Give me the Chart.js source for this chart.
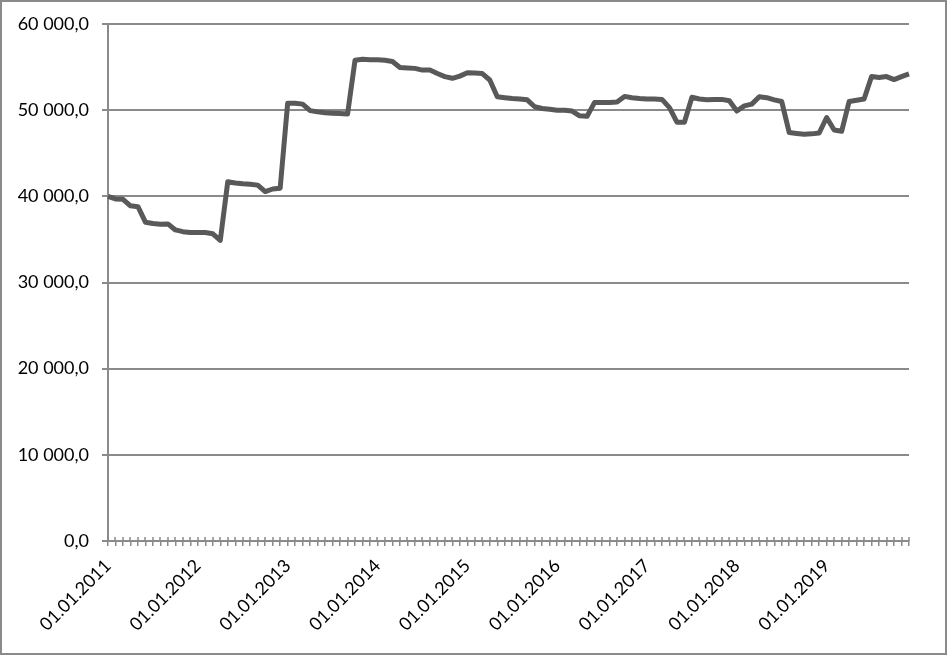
<!DOCTYPE html>
<html><head><meta charset="utf-8">
<script src="https://cdn.jsdelivr.net/npm/chart.js@4/dist/chart.umd.min.js"></script>
<style>html,body{margin:0;padding:0;background:#fff}canvas{display:block}</style>
</head><body>
<canvas id="c" width="947" height="655"></canvas>
<script>
const years = [2011, 2012, 2013, 2014, 2015, 2016, 2017, 2018, 2019];
const v2011 = [40000, 39700, 39650, 38900, 38800, 37000, 36850, 36750, 36800, 36100, 35900, 35800];
const v2012 = [35800, 35800, 35650, 34900, 41700, 41550, 41450, 41400, 41300, 40550, 40850, 40950];
const v2013 = [50800, 50800, 50700, 49950, 49800, 49700, 49650, 49600, 49550, 55800, 55900, 55850];
const v2014 = [55850, 55800, 55650, 54950, 54900, 54850, 54650, 54650, 54250, 53900, 53700, 53950];
const v2015 = [54350, 54300, 54250, 53500, 51550, 51450, 51350, 51300, 51200, 50400, 50200, 50100];
const v2016 = [50000, 50000, 49900, 49350, 49300, 50900, 50900, 50900, 50950, 51600, 51450, 51350];
const v2017 = [51300, 51300, 51250, 50300, 48600, 48600, 51500, 51300, 51200, 51250, 51250, 51100];
const v2018 = [49900, 50500, 50700, 51550, 51450, 51200, 51000, 47400, 47300, 47200, 47250, 47350];
const v2019 = [49150, 47700, 47550, 51000, 51150, 51300, 53900, 53800, 53900, 53550, 53900, 54200];
const yTicks = [0, 10000, 20000, 30000, 40000, 50000, 60000];
const tickLabels = ["01.01.2011","01.01.2012","01.01.2013","01.01.2014","01.01.2015","01.01.2016","01.01.2017","01.01.2018","01.01.2019"];

const values = [].concat(v2011, v2012, v2013, v2014, v2015, v2016, v2017, v2018, v2019);
const categories = [];
years.forEach(y => { for (let m = 1; m <= 12; m++) categories.push('01.' + String(m).padStart(2, '0') + '.' + y); });

const GRAY = '#8a8a8a';
const FONT = { family: 'Lato, "Open Sans", sans-serif', size: 18 };

function fmt(n) {
  return String(n).replace(/\B(?=(\d{3})+(?!\d))/g, '\u00a0') + ',0';
}

const extras = {
  id: 'extras',
  afterDraw(chart) {
    const ctx = chart.ctx, xs = chart.scales.x, a = chart.chartArea;
    ctx.save();
    ctx.strokeStyle = GRAY;
    ctx.lineWidth = 1.5;
    ctx.beginPath();
    for (let i = 0; i < xs.ticks.length; i++) {
      const x = Math.round(xs.getPixelForTick(i));
      ctx.moveTo(x, a.bottom - 4);
      ctx.lineTo(x, a.bottom);
    }
    ctx.stroke();
    ctx.lineWidth = 2;
    ctx.strokeRect(1, 1, chart.width - 2, chart.height - 2);
    ctx.restore();
  }
};

new Chart(document.getElementById('c'), {
  type: 'line',
  data: {
    labels: categories,
    datasets: [{
      data: values,
      borderColor: '#595959',
      borderWidth: 5,
      pointRadius: 0,
      tension: 0,
      borderJoinStyle: 'round',
      fill: false
    }]
  },
  options: {
    responsive: false,
    devicePixelRatio: 1,
    animation: false,
    layout: { padding: { left: 0, top: 24, right: 38, bottom: 0 } },
    plugins: { legend: { display: false }, tooltip: { enabled: false } },
    scales: {
      x: {
        type: 'category',
        offset: false,
        afterFit: s => { s.height = 114; },
        border: { display: true, color: GRAY, width: 2 },
        grid: { display: true, drawOnChartArea: false, drawTicks: true, tickLength: 5, color: GRAY, lineWidth: 1.5 },
        ticks: {
          autoSkip: false,
          minRotation: 45,
          maxRotation: 45,
          padding: 9,
          color: '#000',
          font: FONT,
          callback: (val, idx) => (idx % 12 === 0 ? tickLabels[idx / 12] : '')
        }
      },
      y: {
        min: 0,
        max: 60000,
        afterFit: s => { s.width = 108; },
        afterBuildTicks: s => { s.ticks = yTicks.map(v => ({ value: v })); },
        border: { display: true, color: GRAY, width: 2 },
        grid: { color: GRAY, lineWidth: 2, tickLength: 6, drawTicks: true },
        ticks: {
          padding: 13,
          color: '#000',
          font: FONT,
          callback: v => fmt(v)
        }
      }
    }
  },
  plugins: [extras]
});
</script>
</body></html>
